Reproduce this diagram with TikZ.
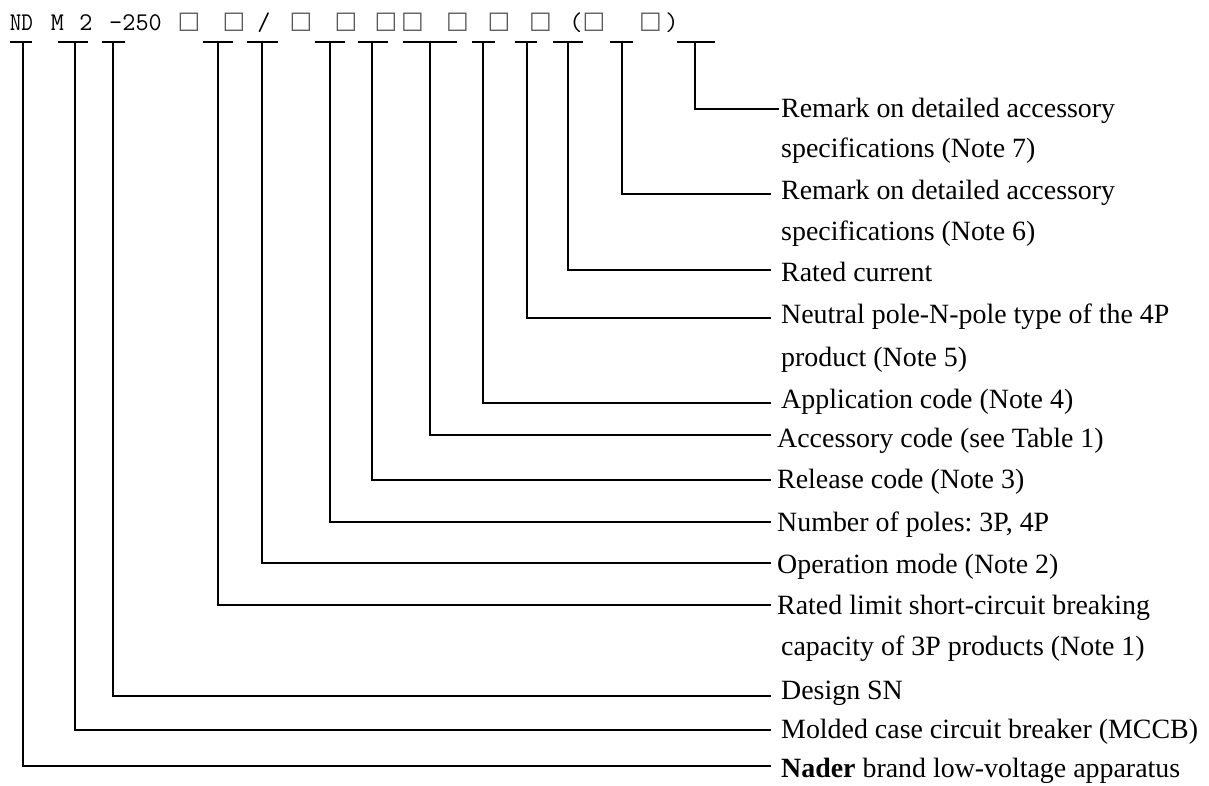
\documentclass[tikz,border=0pt]{standalone}
\usepackage{fontspec}
\setmainfont{Liberation Serif}
\newfontfamily\boxfont{DejaVu Sans}
\frenchspacing
\begin{document}
\begin{tikzpicture}[x=1pt,y=-1pt,
  lab/.style={anchor=base west,inner sep=0pt,font=\fontsize{27.9}{31}\selectfont},
  code/.style={anchor=base,inner sep=0pt,font=\ttfamily\fontsize{25.5}{28}\selectfont},
  sq/.style={anchor=center,inner sep=0pt,text=black!65,font=\boxfont\fontsize{24}{26}\selectfont},
  wire/.style={line width=1.8pt,line join=miter}]
\useasboundingbox (0,0) rectangle (1209,785);
% code string
\node[code] (cND) at (21.5,30) {\scalebox{0.88}[1]{ND}};
\node[code] (cM) at (57.5,30) {M};
\node[code] (c2) at (86,30) {2};
\node[code] (c250) at (135.5,30) {-250};
\node[code] (csl) at (264,30) {/};
\node[code] (clp) at (576,30) {(};
\node[code] (crp) at (672,30) {)};
\foreach \n/\x in {1/189,2/234,3/301,4/346,5/386,6/412.5,7/457.5,8/499,9/540.5,10/594,11/650.5}
  \node[sq] (s\n) at (\x,22.5) {□};
% labels
\node[lab] (l7a) at (781,117) {Remark on detailed accessory};
\node[lab] (l7b) at (781,157) {specifications (Note 7)};
\node[lab] (l6a) at (781,199) {Remark on detailed accessory};
\node[lab] (l6b) at (781,240) {specifications (Note 6)};
\node[lab] (lrc) at (781,281) {Rated current};
\node[lab] (lna) at (781,323) {Neutral pole-N-pole type of the 4P};
\node[lab] (lnb) at (781,366) {product (Note 5)};
\node[lab] (lap) at (781,408) {Application code (Note 4)};
\node[lab] (lac) at (777,447) {Accessory code (see Table 1)};
\node[lab] (lre) at (777,488) {Release code (Note 3)};
\node[lab] (lnp) at (777,531) {Number of poles: 3P, 4P};
\node[lab] (lop) at (777,573) {Operation mode (Note 2)};
\node[lab] (lrl) at (777,614) {Rated limit short-circuit breaking};
\node[lab] (lrl2) at (781,655) {capacity of 3P products (Note 1)};
\node[lab] (lds) at (781,699) {Design SN};
\node[lab] (lmc) at (781,738) {Molded case circuit breaker (MCCB)};
\node[lab] (lnd) at (781,777) {\textbf{Nader} brand low-voltage apparatus};
% connectors
\foreach \i/\l/\r/\v/\y/\e in {1/10/32/23/766/771,2/58/88/75/730/771,3/102/125/113/696/771,
  4/203/233/218/605/771,5/247/278/262/563/771,6/315/345/330/522/771,7/358/388/372/480/771,
  8/403/457/430/435/771,9/472/495/483/403/771,10/515/537/527/318/771,11/553/583/568/270/771,
  12/610/633/622/194/771,13/677/715/695/109/779}{
  \coordinate (bl\i) at (\l,42);
  \coordinate (br\i) at (\r,42);
  \coordinate (bv\i) at (\v,42);
  \coordinate (be\i) at (\e,\y);
  \draw[wire] (bl\i) -- (br\i);
  \draw[wire] (bv\i) |- (be\i);
}
\end{tikzpicture}
\end{document}
